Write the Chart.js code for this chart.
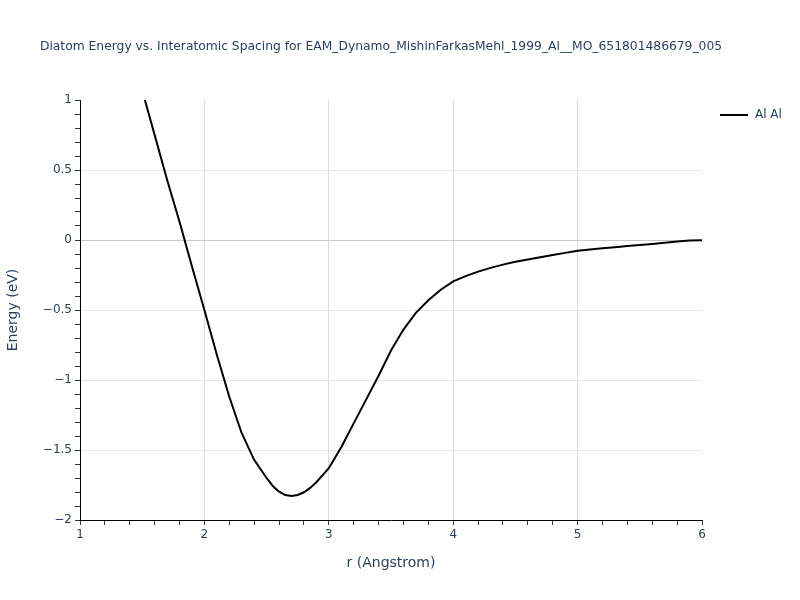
<!DOCTYPE html>
<html>
<head>
<meta charset="utf-8">
<script src="https://cdn.jsdelivr.net/npm/chart.js@4/dist/chart.umd.min.js"></script>
<style>
  html, body { margin: 0; padding: 0; background: #fff; }
  #wrap { width: 800px; height: 600px; }
</style>
</head>
<body>
<div id="wrap"><canvas id="myChart" width="800" height="600"></canvas></div>
<script>
// diatom curve
const chartTitle = "Diatom Energy vs. Interatomic Spacing for EAM_Dynamo_MishinFarkasMehl_1999_Al__MO_651801486679_005";
const seriesName = "Al Al";
const rValues = [1.5, 1.6, 1.7, 1.8, 1.9, 2.0, 2.1, 2.2, 2.3, 2.4,
                 2.5, 2.55, 2.6, 2.65, 2.7, 2.75, 2.8, 2.85, 2.9, 3.0,
                 3.1, 3.2, 3.3, 3.4, 3.5, 3.6, 3.7, 3.8, 3.9, 4.0,
                 4.1, 4.2, 4.3, 4.4, 4.5, 4.6, 4.7, 4.8, 4.9, 5.0,
                 5.1, 5.2, 5.3, 5.4, 5.5, 5.6, 5.7, 5.8, 5.9, 6.0];
const energyValues = [1.07, 0.75, 0.43, 0.13, -0.19, -0.50, -0.82, -1.12, -1.38, -1.57,
                      -1.70, -1.757, -1.798, -1.822, -1.829, -1.821, -1.802, -1.771, -1.73, -1.63,
                      -1.48, -1.31, -1.14, -0.97, -0.79, -0.64, -0.52, -0.43, -0.355, -0.295,
                      -0.258, -0.226, -0.199, -0.176, -0.155, -0.139, -0.123, -0.107, -0.092, -0.077,
                      -0.068, -0.059, -0.051, -0.043, -0.036, -0.028, -0.019, -0.010, -0.003, -0.002];
const xTickLabels = [1, 2, 3, 4, 5, 6];
const yTickLabels = [-2, -1.5, -1, -0.5, 0, 0.5, 1];

const textColor = '#2a3f5f';
const fontFamily = '"DejaVu Sans", Verdana, sans-serif';
Chart.defaults.font.family = fontFamily;
Chart.defaults.color = textColor;

function near(v, list) {
  return list.some(t => Math.abs(t - v) < 1e-6);
}
function fmt(v) {
  return v < 0 ? '\u2212' + Math.abs(v) : String(v);
}

// title and legend drawn by hand so they sit where plotly puts them
const extras = {
  id: 'extras',
  afterDraw(chart) {
    const ctx = chart.ctx;
    ctx.save();
    ctx.fillStyle = textColor;
    ctx.font = '12.3px ' + fontFamily;
    ctx.textAlign = 'center';
    ctx.textBaseline = 'middle';
    ctx.fillText(chartTitle, 381, 47);

    ctx.strokeStyle = '#000';
    ctx.lineWidth = 2;
    ctx.beginPath();
    ctx.moveTo(720, 115);
    ctx.lineTo(748, 115);
    ctx.stroke();
    ctx.textAlign = 'left';
    ctx.font = '12px ' + fontFamily;
    ctx.fillText(chart.data.datasets[0].label, 755, 115);
    ctx.restore();
  }
};

new Chart("myChart", {
  type: "line",
  data: {
    datasets: [{
      label: seriesName,
      data: rValues.map((r, i) => ({x: r, y: energyValues[i]})),
      borderColor: '#000',
      borderWidth: 2,
      pointRadius: 0,
      tension: 0,
      fill: false
    }]
  },
  options: {
    responsive: false,
    animation: false,
    layout: {padding: {top: 100, right: 98, bottom: 0, left: 0}},
    plugins: {
      legend: {display: false},
      title: {display: false},
      tooltip: {enabled: false}
    },
    scales: {
      x: {
        type: 'linear',
        min: 1, max: 6,
        afterFit: s => { s.height = 80; },
        ticks: {
          stepSize: 0.2, autoSkip: false, maxRotation: 0,
          padding: 3,
          font: {size: 12},
          callback: v => near(v, xTickLabels) ? fmt(Math.round(v)) : ''
        },
        grid: {
          tickLength: 5,
          tickColor: '#333',
          color: c => (c.tick && near(c.tick.value, xTickLabels) && c.tick.value > 1 && c.tick.value < 6) ? '#dcdcdc' : 'rgba(0,0,0,0)'
        },
        border: {display: true, color: '#000', width: 1},
        title: {
          display: true, text: 'r (Angstrom)',
          font: {size: 14}, color: textColor,
          padding: {top: 0, bottom: 28}
        }
      },
      y: {
        type: 'linear',
        min: -2, max: 1,
        afterFit: s => { s.width = 80; },
        ticks: {
          stepSize: 0.1, autoSkip: false,
          padding: 3,
          font: {size: 12},
          callback: v => near(v, yTickLabels) ? fmt(Math.round(v * 2) / 2) : ''
        },
        grid: {
          tickLength: 5,
          tickColor: '#333',
          color: c => {
            if (!c.tick) return 'rgba(0,0,0,0)';
            const v = c.tick.value;
            if (Math.abs(v) < 1e-6) return '#c8c8c8';
            return (near(v, yTickLabels) && v > -2 && v < 1) ? '#e6e6e6' : 'rgba(0,0,0,0)';
          }
        },
        border: {display: true, color: '#000', width: 1},
        title: {
          display: true, text: 'Energy (eV)',
          font: {size: 14}, color: textColor,
          padding: {top: 5, bottom: 0}
        }
      }
    }
  },
  plugins: [extras]
});
</script>
</body>
</html>
